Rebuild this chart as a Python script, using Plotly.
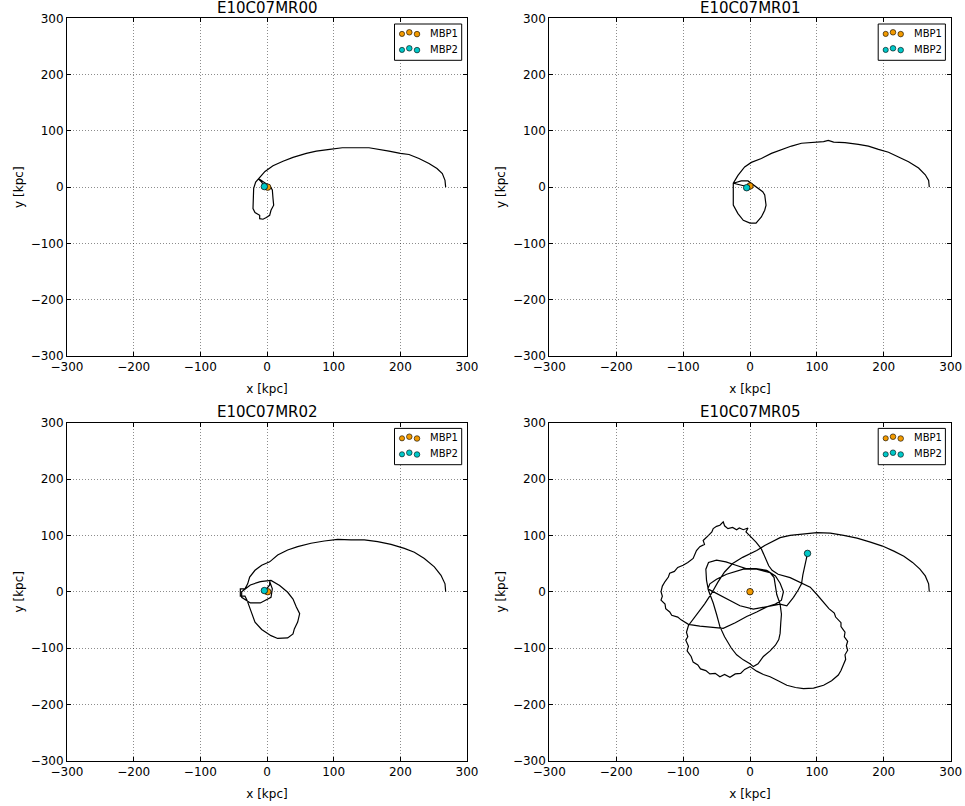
import plotly.graph_objects as go

W, H = 965, 806

titles = ["E10C07MR00", "E10C07MR01", "E10C07MR02", "E10C07MR05"]

# trajectories (kpc)
mr00_x = [268, 267, 263, 255, 243, 228, 213, 200, 183, 168, 153, 133, 113, 94, 74, 59, 39, 24, 9, -3, -13,
          -17, -20, -21, -21, -18, -11, -11, -6, -1, 4, 6, 10, 9, 8, 5, -3, -10, -13, -8, -4]
mr00_y = [0, 12, 24, 33, 42, 51, 58, 60, 64, 67, 70, 70, 70, 67, 64, 60, 53, 46, 38, 28, 15,
          9, -2, -20, -38, -45, -50, -56, -57, -54, -50, -41, -32, -20, -5, 1, 8, 13, 15, 9, 1]
mr00_mbp1 = (1, 0)
mr00_mbp2 = (-4, 1)

mr01_x = [268, 267, 262, 252, 237, 222, 207, 192, 177, 162, 142, 125, 117, 110, 102, 92, 77, 62, 47, 32, 17, 2, -8,
          -18, -25, -25, -25, -18, -10, 0, 9, 17, 22, 24, 22, 19, 12, 4, -3, -13, -23, -25, -8, -5]
mr01_y = [0, 12, 22, 34, 45, 54, 62, 67, 73, 76, 79, 80, 83, 81, 80, 79, 78, 73, 67, 60, 51, 44, 36,
          21, 7, -8, -32, -47, -59, -64, -64, -53, -41, -32, -14, -8, -2, 4, 11, 11, 7, 7, 2, -1]
mr01_mbp1 = (0, 2)
mr01_mbp2 = (-5, -1)

mr02_x = [268, 267, 261, 251, 236, 221, 206, 186, 166, 146, 126, 106, 86, 66, 46, 31, 16, 4, -8, -18, -26,
          -29, -33, -40, -40, -33, -30, -26, -18, -8, 6, 16, 31, 39, 41, 46, 49, 44, 39, 31, 19, 6,
          -10, -25, -38, -38, -25, -10, 6, 8, 4, 4, 0, -5]
mr02_y = [0, 14, 29, 44, 59, 70, 77, 84, 89, 92, 92, 93, 90, 86, 80, 74, 65, 53, 47, 38, 26,
          14, 5, 5, -8, -8, -15, -27, -54, -67, -78, -83, -82, -75, -66, -54, -39, -27, -13, -1, 11, 20,
          18, 12, 0, -10, -20, -20, -10, 5, 18, 12, 6, 2]
mr02_mbp1 = (1, 0)
mr02_mbp2 = (-4, 2)

mr05_x = [268, 267, 262, 254, 243, 230, 215, 198, 180, 160, 140, 120, 100, 80, 60, 45, 34, 22, 10, -11,
          -26, -38, -48, -58, -68, -80, -92,
          -95, -93, -96, -92, -94, -88, -85, -78, -74, -66, -60, -52, -45, -38, -30, -22, -14, -8, 0,
          10, 20, 30, 42, 55, 68, 80, 95, 110, 122, 132, 136, 140, 143, 142, 146, 144, 146, 141, 142,
          136, 136, 128, 126, 118, 110, 100, 90, 77,
          60, 42, 33, 28, 24, 21, 17, 9, 0, -4,
          -6, -3, -10, -16, -20, -26, -33, -38, -40, -45, -50, -55, -57, -62, -66, -70, -68, -75, -80, -85,
          -93, -100, -108, -113, -120, -122, -127, -131, -133, -131, -133, -127, -126, -120, -117, -108, -103,
          -95, -92,
          -75, -58, -40, -22, -5, 10, 25, 38, 47, 50, 45, 38, 25, 9, -6, -21, -36, -50, -62, -66, -65, -62,
          -58, -55, -50, -45, -38, -28, -20, -10, 0, 5, 12, 20, 30, 38, 43, 45, 46, 47, 45, 40, 38, 36, 30,
          10, -10, -35, -50, -60, -63, -55, -40, -15, 5, 30, 45, 55, 65, 72, 77, 79, 82, 84, 86]
mr05_y = [0, 14, 28, 40, 52, 63, 72, 81, 88, 95, 100, 104, 105, 103, 100, 96, 90, 82, 73, 61,
          50, 35, 17, -4, -22, -40, -60,
          -72, -80, -86, -97, -105, -115, -125, -130, -137, -140, -146, -145, -151, -147, -152, -146, -145, -138, -133,
          -141, -147, -151, -158, -166, -170, -172, -171, -166, -158, -148, -140, -128, -120, -112, -104, -96, -88, -80, -72,
          -62, -55, -45, -38, -30, -18, -5, 8, 16,
          25, 31, 38, 46, 56, 66, 76, 88, 98, 104,
          106, 113, 110, 113, 110, 114, 112, 117, 124, 118, 116, 112, 106, 100, 95, 91, 84, 80, 73, 59,
          52, 47, 43, 36, 33, 26, 18, 10, 0, -8, -15, -22, -30, -36, -42, -45, -50,
          -55, -58,
          -61, -63, -65, -55, -44, -36, -27, -22, -15, 0, 15, 28, 38, 41, 41, 47, 53, 56, 52, 40, 20, 2,
          -10, -20, -40, -62, -80, -100, -112, -121, -128, -133, -128, -115, -105, -95, -85, -74, -55, -40, -22, -5, 10, 25, 34,
          40, 40, 31, 22, 14, 5, 0, -10, -25, -31, -25, -22, -25, -10, 3, 14, 30, 48, 58, 68]
mr05_mbp1 = (0, 0)
mr05_mbp2 = (86, 68)

tracks = [
    (mr00_x, mr00_y, mr00_mbp1, mr00_mbp2),
    (mr01_x, mr01_y, mr01_mbp1, mr01_mbp2),
    (mr02_x, mr02_y, mr02_mbp1, mr02_mbp2),
    (mr05_x, mr05_y, mr05_mbp1, mr05_mbp2),
]

ticks = [-300, -200, -100, 0, 100, 200, 300]
tick_text = ["\u2212300", "\u2212200", "\u2212100", "0", "100", "200", "300"]
legend_labels = ["MBP1", "MBP2"]
c1, c2 = "#F29A00", "#00C8C8"

# panel pixel boxes (left, top, right, bottom)
boxes = [(67, 18.3, 467, 356), (549.3, 18.3, 950.7, 356),
         (67, 422.7, 467, 760.7), (549.3, 422.7, 950.7, 760.7)]

fig = go.Figure()
layout = dict(width=W, height=H, margin=dict(l=0, r=0, t=0, b=0, autoexpand=False),
              plot_bgcolor="white", paper_bgcolor="white", showlegend=False,
              font=dict(family="DejaVu Sans", color="black", size=12))
shapes, annotations = [], []

for i, (tx, ty, m1, m2) in enumerate(tracks):
    xa = "x" if i == 0 else f"x{i+1}"
    ya = "y" if i == 0 else f"y{i+1}"
    L, T, R, B = boxes[i]
    fig.add_trace(go.Scatter(x=tx, y=ty, mode="lines", xaxis=xa, yaxis=ya,
                             line=dict(color="black", width=1.2), hoverinfo="skip"))
    fig.add_trace(go.Scatter(x=[m1[0]], y=[m1[1]], mode="markers", xaxis=xa, yaxis=ya,
                             marker=dict(color=c1, size=6.5, line=dict(color="black", width=0.7))))
    fig.add_trace(go.Scatter(x=[m2[0]], y=[m2[1]], mode="markers", xaxis=xa, yaxis=ya,
                             marker=dict(color=c2, size=6.5, line=dict(color="black", width=0.7))))
    axcommon = dict(range=[-300, 300], tickvals=ticks, ticktext=tick_text, ticks="inside",
                    ticklen=4, tickcolor="black", showline=True, linecolor="black", linewidth=1,
                    mirror="ticks", showgrid=True, gridcolor="rgba(0,0,0,0.45)", griddash="1px,2px",
                    gridwidth=1, zeroline=False, automargin=False,
                    tickfont=dict(size=12, family="DejaVu Sans"))
    xk = "xaxis" if i == 0 else f"xaxis{i+1}"
    yk = "yaxis" if i == 0 else f"yaxis{i+1}"
    layout[xk] = dict(axcommon, domain=[L / W, R / W], anchor=ya,
                      title=dict(text="x [kpc]", font=dict(size=12), standoff=11))
    layout[yk] = dict(axcommon, domain=[1 - B / H, 1 - T / H], anchor=xa,
                      title=dict(text="y [kpc]", font=dict(size=12), standoff=4))
    annotations.append(dict(text=titles[i], x=(L + R) / 2 / W, y=1 - (T - 10.5) / H,
                            xref="paper", yref="paper", showarrow=False,
                            font=dict(size=15, family="DejaVu Sans"), xanchor="center", yanchor="middle"))
    # legend box
    lx0, ly0, lx1, ly1 = R - 72.5, T + 5.7, R - 5.3, T + 42
    shapes.append(dict(type="rect", xref="paper", yref="paper",
                       x0=lx0 / W, x1=lx1 / W, y0=1 - ly1 / H, y1=1 - ly0 / H,
                       line=dict(color="black", width=1), fillcolor="white", layer="above"))
    for row, (lab, col) in enumerate(zip(legend_labels, [c1, c2])):
        cy = ly0 + 9.3 + row * 16
        for k, (dx, dy, r) in enumerate([(7.5, 0.6, 2.6), (14.8, -1.0, 2.8), (22.5, 0.8, 2.8)]):
            cx = lx0 + dx
            shapes.append(dict(type="circle", xref="paper", yref="paper",
                               x0=(cx - r) / W, x1=(cx + r) / W,
                               y0=1 - (cy + dy + r) / H, y1=1 - (cy + dy - r) / H,
                               fillcolor=col, line=dict(color="black", width=0.6), layer="above"))
        annotations.append(dict(text=lab, x=(lx0 + 33.5) / W, y=1 - cy / H, xref="paper", yref="paper",
                                showarrow=False, xanchor="left", yanchor="middle",
                                font=dict(size=10, family="DejaVu Sans")))

layout["shapes"] = shapes
layout["annotations"] = annotations
fig.update_layout(**layout)
fig.write_html("out.html")
